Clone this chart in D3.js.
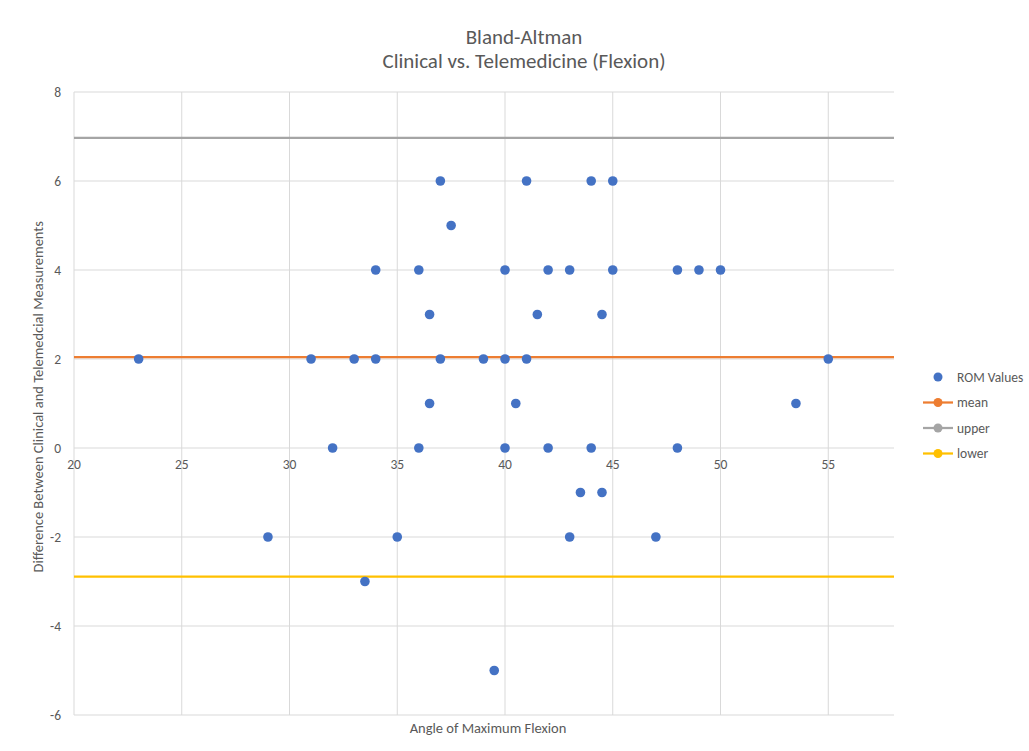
<!DOCTYPE html>
<html>
<head>
<meta charset="utf-8">
<script src="https://cdn.jsdelivr.net/npm/d3@7"></script>
<style>
	body { margin: 0; background: #fff; }
	svg { font-family: Calibri, Carlito, Lato, sans-serif; }
	.grid line { stroke: #d9d9d9; stroke-width: 1; }
	.tick-label { fill: #595959; font-size: 13.5px; }
</style>
</head>
<body>
<svg id="chart"></svg>
<script>
// data
let angle = [23, 29, 31, 32, 33, 33.5, 34, 34, 35, 36, 36, 36.5, 36.5, 37, 37, 37.5, 39, 39.5, 40, 40, 40, 40.5, 41, 41, 41.5, 42, 42, 43, 43, 43.5, 44, 44, 44.5, 44.5, 45, 45, 47, 48, 48, 49, 50, 53.5, 55];
let diff  = [2, -2, 2, 0, 2, -3, 4, 2, -2, 4, 0, 3, 1, 6, 2, 5, 2, -5, 4, 2, 0, 1, 6, 2, 3, 4, 0, 4, -2, -1, 6, 0, 3, -1, 6, 4, -2, 4, 0, 4, 4, 1, 2];
let limitNames = ['mean', 'upper', 'lower'];
let limitValues = [2.04, 6.97, -2.89];
let limitColors = ['#ed7d31', '#a5a5a5', '#ffc000'];
let xTicks = [20, 25, 30, 35, 40, 45, 50, 55];
let yTicks = [-6, -4, -2, 0, 2, 4, 6, 8];

let W = 1029, H = 751;
let margin = { top: 92, right: 135, bottom: 36, left: 74 };
let width = W - margin.left - margin.right;
let height = H - margin.top - margin.bottom;

let svg = d3.select('#chart').attr('width', W).attr('height', H);
let g = svg.append('g').attr('transform', 'translate(' + margin.left + ',' + margin.top + ')');

let x = d3.scaleLinear().domain([20, 58.05]).range([0, width]);
let y = d3.scaleLinear().domain([-6, 8]).range([height, 0]);

// gridlines
let grid = g.append('g').attr('class', 'grid');
grid.selectAll('.gy').data(yTicks).enter().append('line')
	.attr('x1', 0).attr('x2', width)
	.attr('y1', d => y(d)).attr('y2', d => y(d));
grid.selectAll('.gx').data(xTicks).enter().append('line')
	.attr('x1', d => x(d)).attr('x2', d => x(d))
	.attr('y1', 0).attr('y2', height);

// tick labels: y on the left, x along the zero line
g.selectAll('.ylab').data(yTicks).enter().append('text')
	.attr('class', 'tick-label')
	.attr('x', -13).attr('y', d => y(d)).attr('dy', '0.35em')
	.attr('text-anchor', 'end')
	.text(d => d);
g.selectAll('.xlab').data(xTicks).enter().append('text')
	.attr('class', 'tick-label')
	.attr('x', d => x(d)).attr('y', y(0) + 16).attr('dy', '0.35em')
	.attr('text-anchor', 'middle')
	.text(d => d);

// limit lines
g.selectAll('.limit').data(limitValues).enter().append('line')
	.attr('x1', 0).attr('x2', width)
	.attr('y1', d => y(d)).attr('y2', d => y(d))
	.style('stroke', (d, i) => limitColors[i])
	.style('stroke-width', 2.25);

// points
g.selectAll('.pt').data(angle).enter().append('circle')
	.attr('cx', d => x(d))
	.attr('cy', (d, i) => y(diff[i]))
	.attr('r', 4.8)
	.style('fill', '#4472c4');

// titles
svg.append('text').attr('x', 524).attr('y', 44).attr('text-anchor', 'middle')
	.style('font-size', '21px').style('fill', '#595959').text('Bland-Altman');
svg.append('text').attr('x', 524).attr('y', 68).attr('text-anchor', 'middle')
	.style('font-size', '21px').style('fill', '#595959').text('Clinical vs. Telemedicine (Flexion)');
svg.append('text').attr('x', 488).attr('y', 733).attr('text-anchor', 'middle')
	.style('font-size', '14.5px').style('fill', '#595959').text('Angle of Maximum Flexion');
svg.append('text').attr('transform', 'translate(43,' + (margin.top + y(1.15)) + ') rotate(-90)')
	.attr('text-anchor', 'middle')
	.style('font-size', '14.5px').style('fill', '#595959')
	.text('Difference Between Clinical and Telemedcial Measurements');

// legend
let legend = svg.append('g').attr('transform', 'translate(938,377)');
legend.append('circle').attr('r', 4.5).style('fill', '#4472c4');
legend.append('text').attr('x', 19).attr('dy', '0.35em').attr('class', 'tick-label').text('ROM Values');
let items = legend.selectAll('.item').data(limitNames).enter().append('g')
	.attr('transform', (d, i) => 'translate(0,' + (25.5 * (i + 1)) + ')');
items.append('line').attr('x1', -15).attr('x2', 15)
	.style('stroke', (d, i) => limitColors[i]).style('stroke-width', 2.25);
items.append('circle').attr('r', 4.5).style('fill', (d, i) => limitColors[i]);
items.append('text').attr('x', 19).attr('dy', '0.35em').attr('class', 'tick-label').text(d => d);
</script>
</body>
</html>
